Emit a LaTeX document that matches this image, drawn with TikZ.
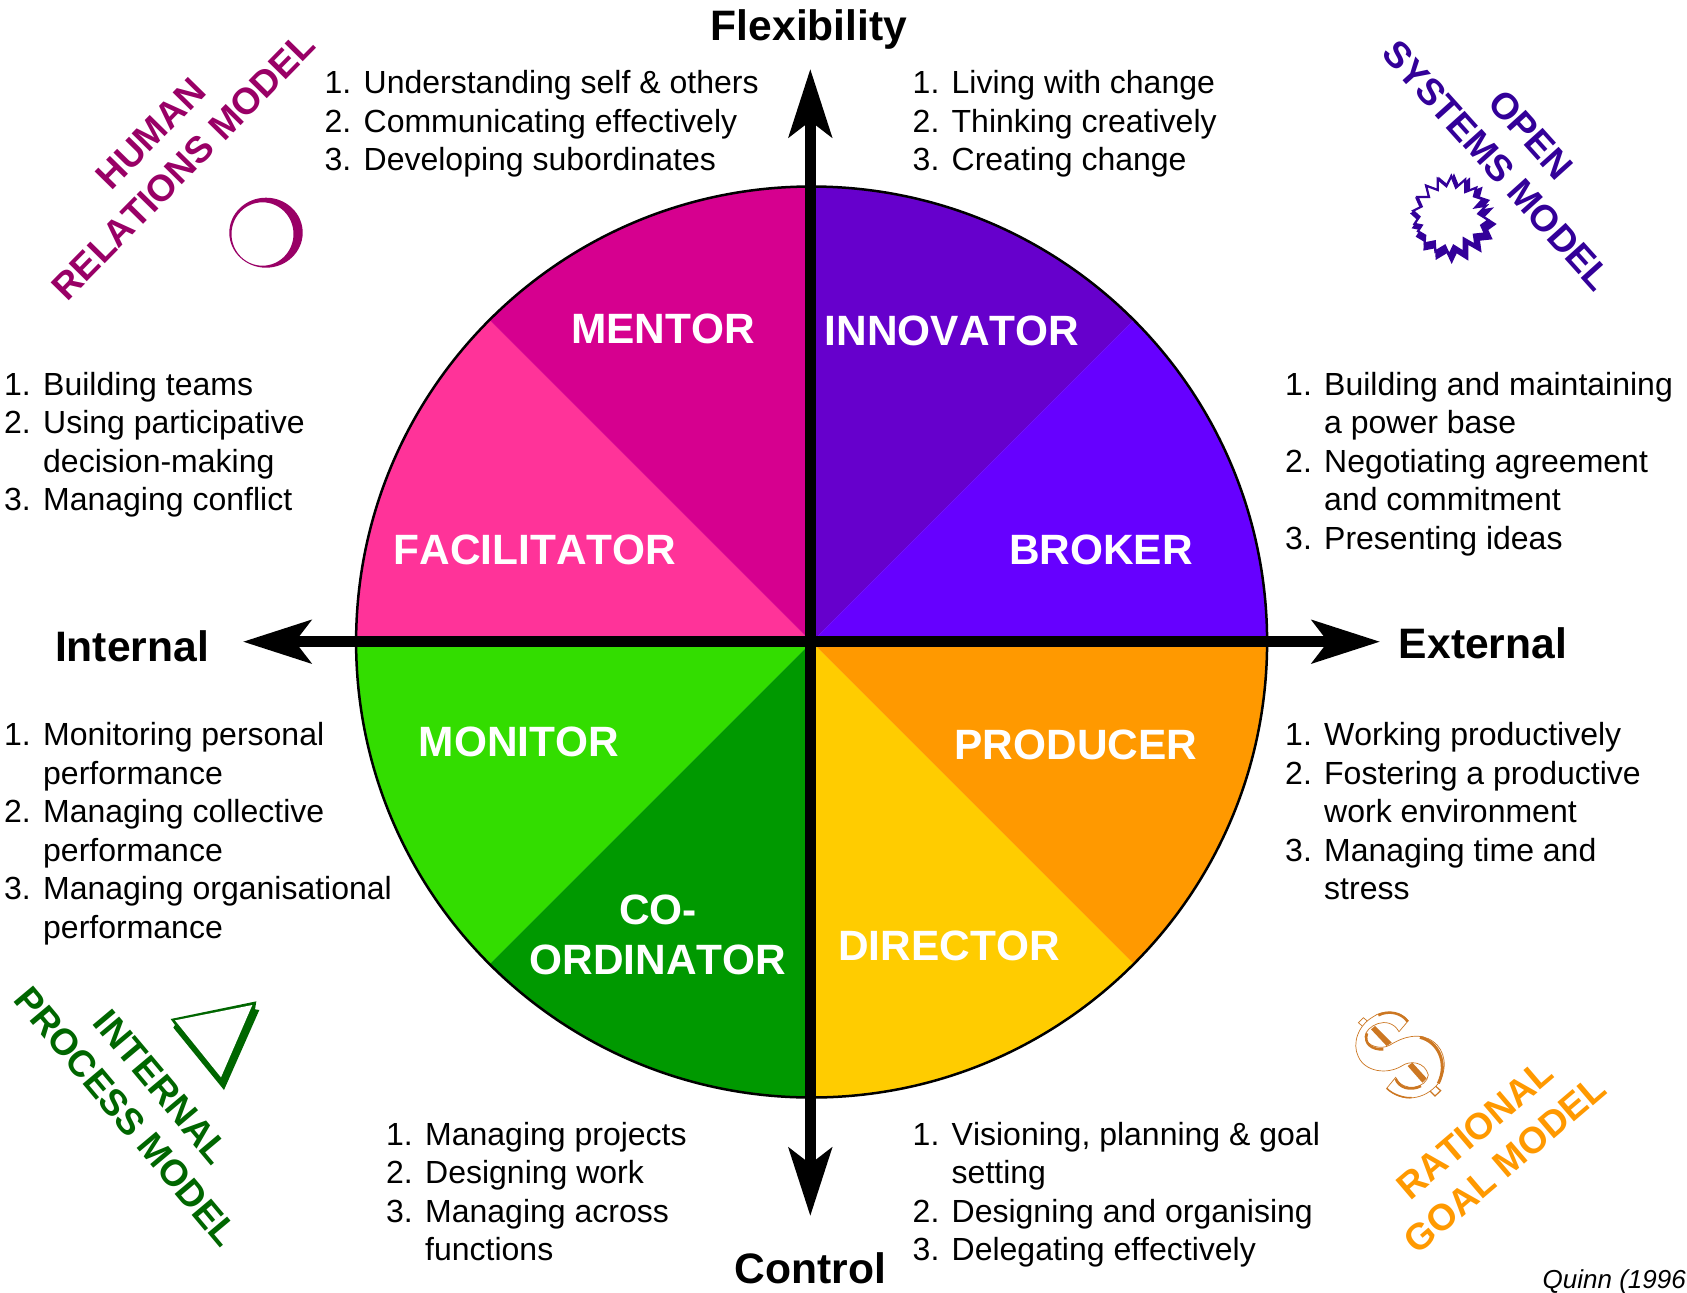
\documentclass[tikz,border=0pt]{standalone}
\usepackage{fontspec}
\setmainfont[Kerning=Off]{Liberation Sans}
\usetikzlibrary{arrows.meta}
\definecolor{cMentor}{HTML}{D6008F}
\definecolor{cFacil}{HTML}{FF3399}
\definecolor{cInnov}{HTML}{6600CC}
\definecolor{cBroker}{HTML}{6600FF}
\definecolor{cMonitor}{HTML}{33DD00}
\definecolor{cCoord}{HTML}{009900}
\definecolor{cDirector}{HTML}{FFCC00}
\definecolor{cProducer}{HTML}{FF9900}
\definecolor{mHuman}{HTML}{990066}
\definecolor{mOpen}{HTML}{330099}
\definecolor{mInternal}{HTML}{006600}
\definecolor{mGoal}{HTML}{FF9900}
\definecolor{mDollar}{HTML}{CC7722}
\newcommand{\skilllist}[1]{\begin{tabular}[t]{@{}p{39pt}@{}l@{}}#1\end{tabular}}
\tikzset{
  listnode/.style={anchor=base west,inner sep=0pt,font=\fontsize{32}{38.5}\selectfont},
  rolelabel/.style={anchor=base,inner sep=0pt,text=white,align=center,font=\fontsize{42.4}{49.5}\selectfont\bfseries},
  axislabel/.style={anchor=base,inner sep=0pt,text=black,font=\fontsize{42.6}{50}\selectfont\bfseries},
  modellabel/.style={inner sep=0pt,align=center,font=\fontsize{37}{46}\selectfont\bfseries},
  axisline/.style={line width=10.5pt,black,{Stealth[length=68pt,width=43pt,inset=16pt]}-{Stealth[length=68pt,width=43pt,inset=16pt]}}
}
\begin{document}
\begin{tikzpicture}[x=1pt,y=-1pt]
\useasboundingbox (0,0) rectangle (1687,1293);
\fill[white] (0,0) rectangle (1687,1293);
\coordinate (c) at (811.6,642);
\def\R{455.5pt}
% sectors
\fill[cInnov]    (c) -- ++(90:\R) arc (90:45:\R) -- cycle;
\fill[cBroker]   (c) -- ++(45:\R) arc (45:0:\R) -- cycle;
\fill[cProducer] (c) -- ++(0:\R) arc (0:-45:\R) -- cycle;
\fill[cDirector] (c) -- ++(-45:\R) arc (-45:-90:\R) -- cycle;
\fill[cCoord]    (c) -- ++(-90:\R) arc (-90:-135:\R) -- cycle;
\fill[cMonitor]  (c) -- ++(-135:\R) arc (-135:-180:\R) -- cycle;
\fill[cFacil]    (c) -- ++(180:\R) arc (180:135:\R) -- cycle;
\fill[cMentor]   (c) -- ++(135:\R) arc (135:90:\R) -- cycle;
\draw[line width=2.5pt,black] (c) circle (\R);
% axes
\coordinate (axT) at (810.3,69);
\coordinate (axB) at (810.3,1216);
\coordinate (axL) at (243,641.7);
\coordinate (axR) at (1380,641.7);
\draw[axisline] (axT) -- (axB);
\draw[axisline] (axL) -- (axR);
% axis labels
\node[axislabel] (flex) at (809,40) {Flexibility};
\node[axislabel] (ctrl) at (810.5,1283.5) {Control};
\node[axislabel] (intl) at (132,661.5) {Internal};
\node[axislabel] (extl) at (1483,658.5) {External};
% roles
\node[rolelabel] (mentor) at (663,343) {MENTOR};
\node[rolelabel] (innov) at (952,345) {INNOVATOR};
\node[rolelabel] (facil) at (535,564) {FACILITATOR};
\node[rolelabel] (broker) at (1101,564) {BROKER};
\node[rolelabel] (monitor) at (519,756) {MONITOR};
\node[rolelabel] (producer) at (1076,759.5) {PRODUCER};
\node[rolelabel,anchor=center] (coord) at (658,935) {CO-\\ORDINATOR};
\node[rolelabel] (director) at (949,960) {DIRECTOR};
% lists
\node[listnode] (l1) at (324.5,93.7) {\skilllist{1.&Understanding self \& others\\2.&Communicating effectively\\3.&Developing subordinates}};
\node[listnode] (l2) at (912.5,93.7) {\skilllist{1.&Living with change\\2.&Thinking creatively\\3.&Creating change}};
\node[listnode] (l3) at (4,395) {\skilllist{1.&Building teams\\2.&Using participative\\&decision-making\\3.&Managing conflict}};
\node[listnode] (l4) at (1285,395) {\skilllist{1.&Building and maintaining\\&a power base\\2.&Negotiating agreement\\&and commitment\\3.&Presenting ideas}};
\node[listnode] (l5) at (4,745.5) {\skilllist{1.&Monitoring personal\\&performance\\2.&Managing collective\\&performance\\3.&Managing organisational\\&performance}};
\node[listnode] (l6) at (1285,745.5) {\skilllist{1.&Working productively\\2.&Fostering a productive\\&work environment\\3.&Managing time and\\&stress}};
\node[listnode] (l7) at (386,1145) {\skilllist{1.&Managing projects\\2.&Designing work\\3.&Managing across\\&functions}};
\node[listnode] (l8) at (912.5,1145) {\skilllist{1.&Visioning, planning \& goal\\&setting\\2.&Designing and organising\\3.&Delegating effectively}};
% model labels
\node[modellabel,text=mHuman,rotate=45.5] (mh) at (167,150) {HUMAN\\RELATIONS MODEL};
\node[modellabel,text=mOpen,rotate=-48] (mo) at (1514,150) {OPEN\\SYSTEMS MODEL};
\node[modellabel,text=mInternal,rotate=-50] (mi) at (144,1102) {INTERNAL\\PROCESS MODEL};
\node[modellabel,text=mGoal,rotate=40.5] (mg) at (1490,1147) {RATIONAL\\GOAL MODEL};
\node[anchor=base east,inner sep=0pt,font=\fontsize{26}{30}\selectfont\itshape] (quinn) at (1686,1288) {Quinn (1996};
% crescent icon
\fill[mHuman,even odd rule] (266,232.7) ellipse[x radius=36.7pt,y radius=35pt]
  (262.5,234) ellipse[x radius=31pt,y radius=31.7pt];
% star icon
\def\starpath{(462,520) -- (478,560) -- (510,532) -- (510,575) -- (548,560) -- (540,590) -- (570,600) -- (545,628) -- (582,622) -- (555,650) -- (590,672) -- (565,690) -- (578,718) -- (540,722) -- (545,758) -- (505,735) -- (505,782) -- (470,760) -- (455,792) -- (440,760) -- (407,780) -- (405,745) -- (370,752) -- (372,725) -- (347,710) -- (360,690) -- (335,685) -- (352,660) -- (330,640) -- (360,625) -- (345,592) -- (385,592) -- (375,553) -- (415,568) -- (415,530) -- (445,555) -- cycle}
\begin{scope}[shift={(1300,0)},scale=1/3]
\fill[mOpen] \starpath;
\begin{scope}[shift={(460,650)},scale=.87,shift={(-460,-650)},shift={(-9,-10)}]
\filldraw[fill=white,draw=mOpen,line width=2.2pt,miter limit=8] \starpath;
\end{scope}
\end{scope}
% triangle icon
\begin{scope}[shift={(0,960)},scale=1/3]
\fill[mInternal] (512,177) -- (769,124) -- (765,148) -- (778,150) -- (672,390) -- (520,203) -- (525,195) -- cycle;
\fill[white] (525,181) -- (757,135) -- (663,352) -- cycle;
\end{scope}
% dollar icon
\begin{scope}[shift={(1345,1000)},scale=1/3]
\filldraw[fill=white,draw=mDollar,line width=.7pt] (40,68) -- (55,53) -- (75,70) -- (60,85) -- cycle;
\filldraw[fill=white,draw=mDollar,line width=1.2pt] (250,268) -- (268,255) -- (287,272) -- (270,288) -- cycle;
\filldraw[fill=white,draw=mDollar,line width=.7pt]
  (190,62) .. controls (165,30) and (110,30) .. (85,50)
  .. controls (40,75) and (20,130) .. (40,170)
  .. controls (60,215) and (125,225) .. (170,198)
  .. controls (195,180) and (240,185) .. (250,225)
  .. controls (245,265) and (175,280) .. (152,232)
  -- (125,265)
  .. controls (170,310) and (240,300) .. (280,250)
  .. controls (310,205) and (300,150) .. (265,125)
  .. controls (225,95) and (175,110) .. (135,135)
  .. controls (110,150) and (65,140) .. (60,110)
  .. controls (60,80) and (130,40) .. (162,95)
  -- cycle;
\draw[mDollar,line width=3pt] (225,112) .. controls (280,125) and (310,190) .. (280,250);
\draw[mDollar,line width=2.5pt] (100,46) .. controls (130,30) and (170,38) .. (188,65);
\draw[mDollar,line width=1.5pt] (125,265) .. controls (145,285) and (180,295) .. (200,293);
\fill[mDollar] (78,88) -- (90,78) -- (140,128) -- (125,138) -- cycle;
\fill[mDollar] (188,198) -- (202,188) -- (245,235) -- (232,248) -- cycle;
\draw[mDollar,line width=2.5pt] (66,100) .. controls (55,130) and (80,150) .. (115,148);
\draw[mDollar,line width=2.5pt] (152,236) .. controls (160,262) and (195,275) .. (228,258);
\end{scope}
\end{tikzpicture}
\end{document}
